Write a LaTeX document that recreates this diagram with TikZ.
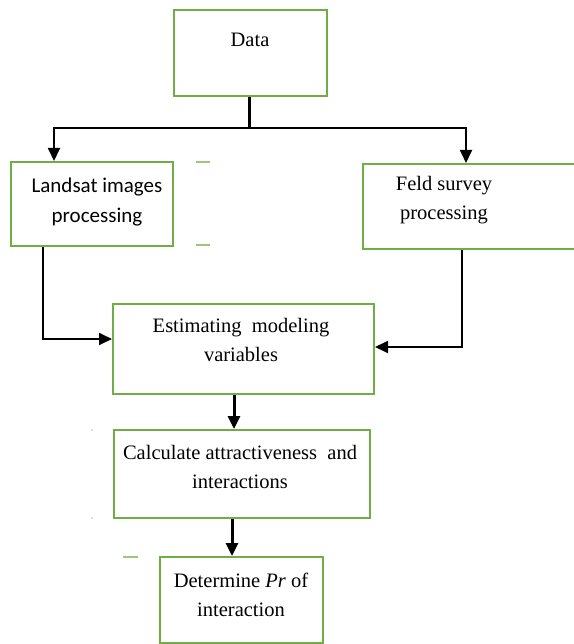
\documentclass[tikz,border=0pt]{standalone}
\usepackage{fontspec}
\setmainfont{Liberation Serif}
\newfontfamily\calibrifont{Carlito}
\usetikzlibrary{positioning,arrows.meta}
\definecolor{boxgreen}{RGB}{112,173,71}

\begin{document}
\begin{tikzpicture}[x=1pt,y=-1pt,
    box/.style={draw=boxgreen, line width=2pt, rectangle, inner sep=0pt},
    txt/.style={align=center, inner sep=0pt, font=\fontsize{20.5}{29}\selectfont},
    arr/.style={-{Triangle[length=13pt,width=12pt]}, line width=1.8pt},
    thickarr/.style={arr, line width=3pt}]
    \useasboundingbox (0,0) rectangle (573,644);

    \node[box, minimum width=153pt, minimum height=86pt] (data) at (250.5,53) {};
    \node[txt] (datatxt) at (250,40) {Data};
    \node[box, minimum width=162pt, minimum height=84pt] (landsat) at (92,204) {};
    \node[txt, font=\calibrifont\fontsize{21}{30}\selectfont] (landsattxt) at (97,202) {Landsat images\\processing};
    \node[box, minimum width=216pt, minimum height=85pt] (feld) at (471,206.5) {};
    \node[txt] (feldtxt) at (444,200) {Feld survey\\processing};
    \node[box, minimum width=261pt, minimum height=90pt] (estim) at (243.5,349) {};
    \node[txt] (estimtxt) at (241,340) {Estimating \ modeling\\variables};
    \node[box, minimum width=256pt, minimum height=88pt] (calc) at (242,474) {};
    \node[txt] (calctxt) at (240,467) {Calculate attractiveness \ and\\interactions};
    \node[box, minimum width=163pt, minimum height=86pt] (det) at (241.5,600) {};
    \node[txt] (dettxt) at (241,595) {Determine \textit{Pr} of\\interaction};

    % split below Data
    \coordinate (split) at (249,128);
    \draw[line width=3pt] ([xshift=-1.5pt]data.south) -- (split);
    \draw[arr] (split) -| ([xshift=-38pt]landsat.north);
    \draw[arr] (split) -| ([xshift=-5pt]feld.north);

    \draw[arr] ([xshift=-49pt]landsat.south) |- ([yshift=10pt]estim.west);
    \draw[arr] ([xshift=-9pt]feld.south) |- ([yshift=2pt]estim.east);
    \draw[thickarr] ([xshift=-9.5pt]estim.south) -- ([xshift=-9.5pt]estim.south |- calc.north);
    \draw[thickarr] ([xshift=-10pt]calc.south) -- ([xshift=-10pt]calc.south |- det.north);

    % stray marks
    \draw[boxgreen!70, line width=1.2pt] (196,162) -- (210,162) (196,245) -- (210,245) (123,557) -- (138,557);
    \fill[boxgreen!60] (92,430) circle (0.8) (92,518) circle (0.8);
\end{tikzpicture}
\end{document}
